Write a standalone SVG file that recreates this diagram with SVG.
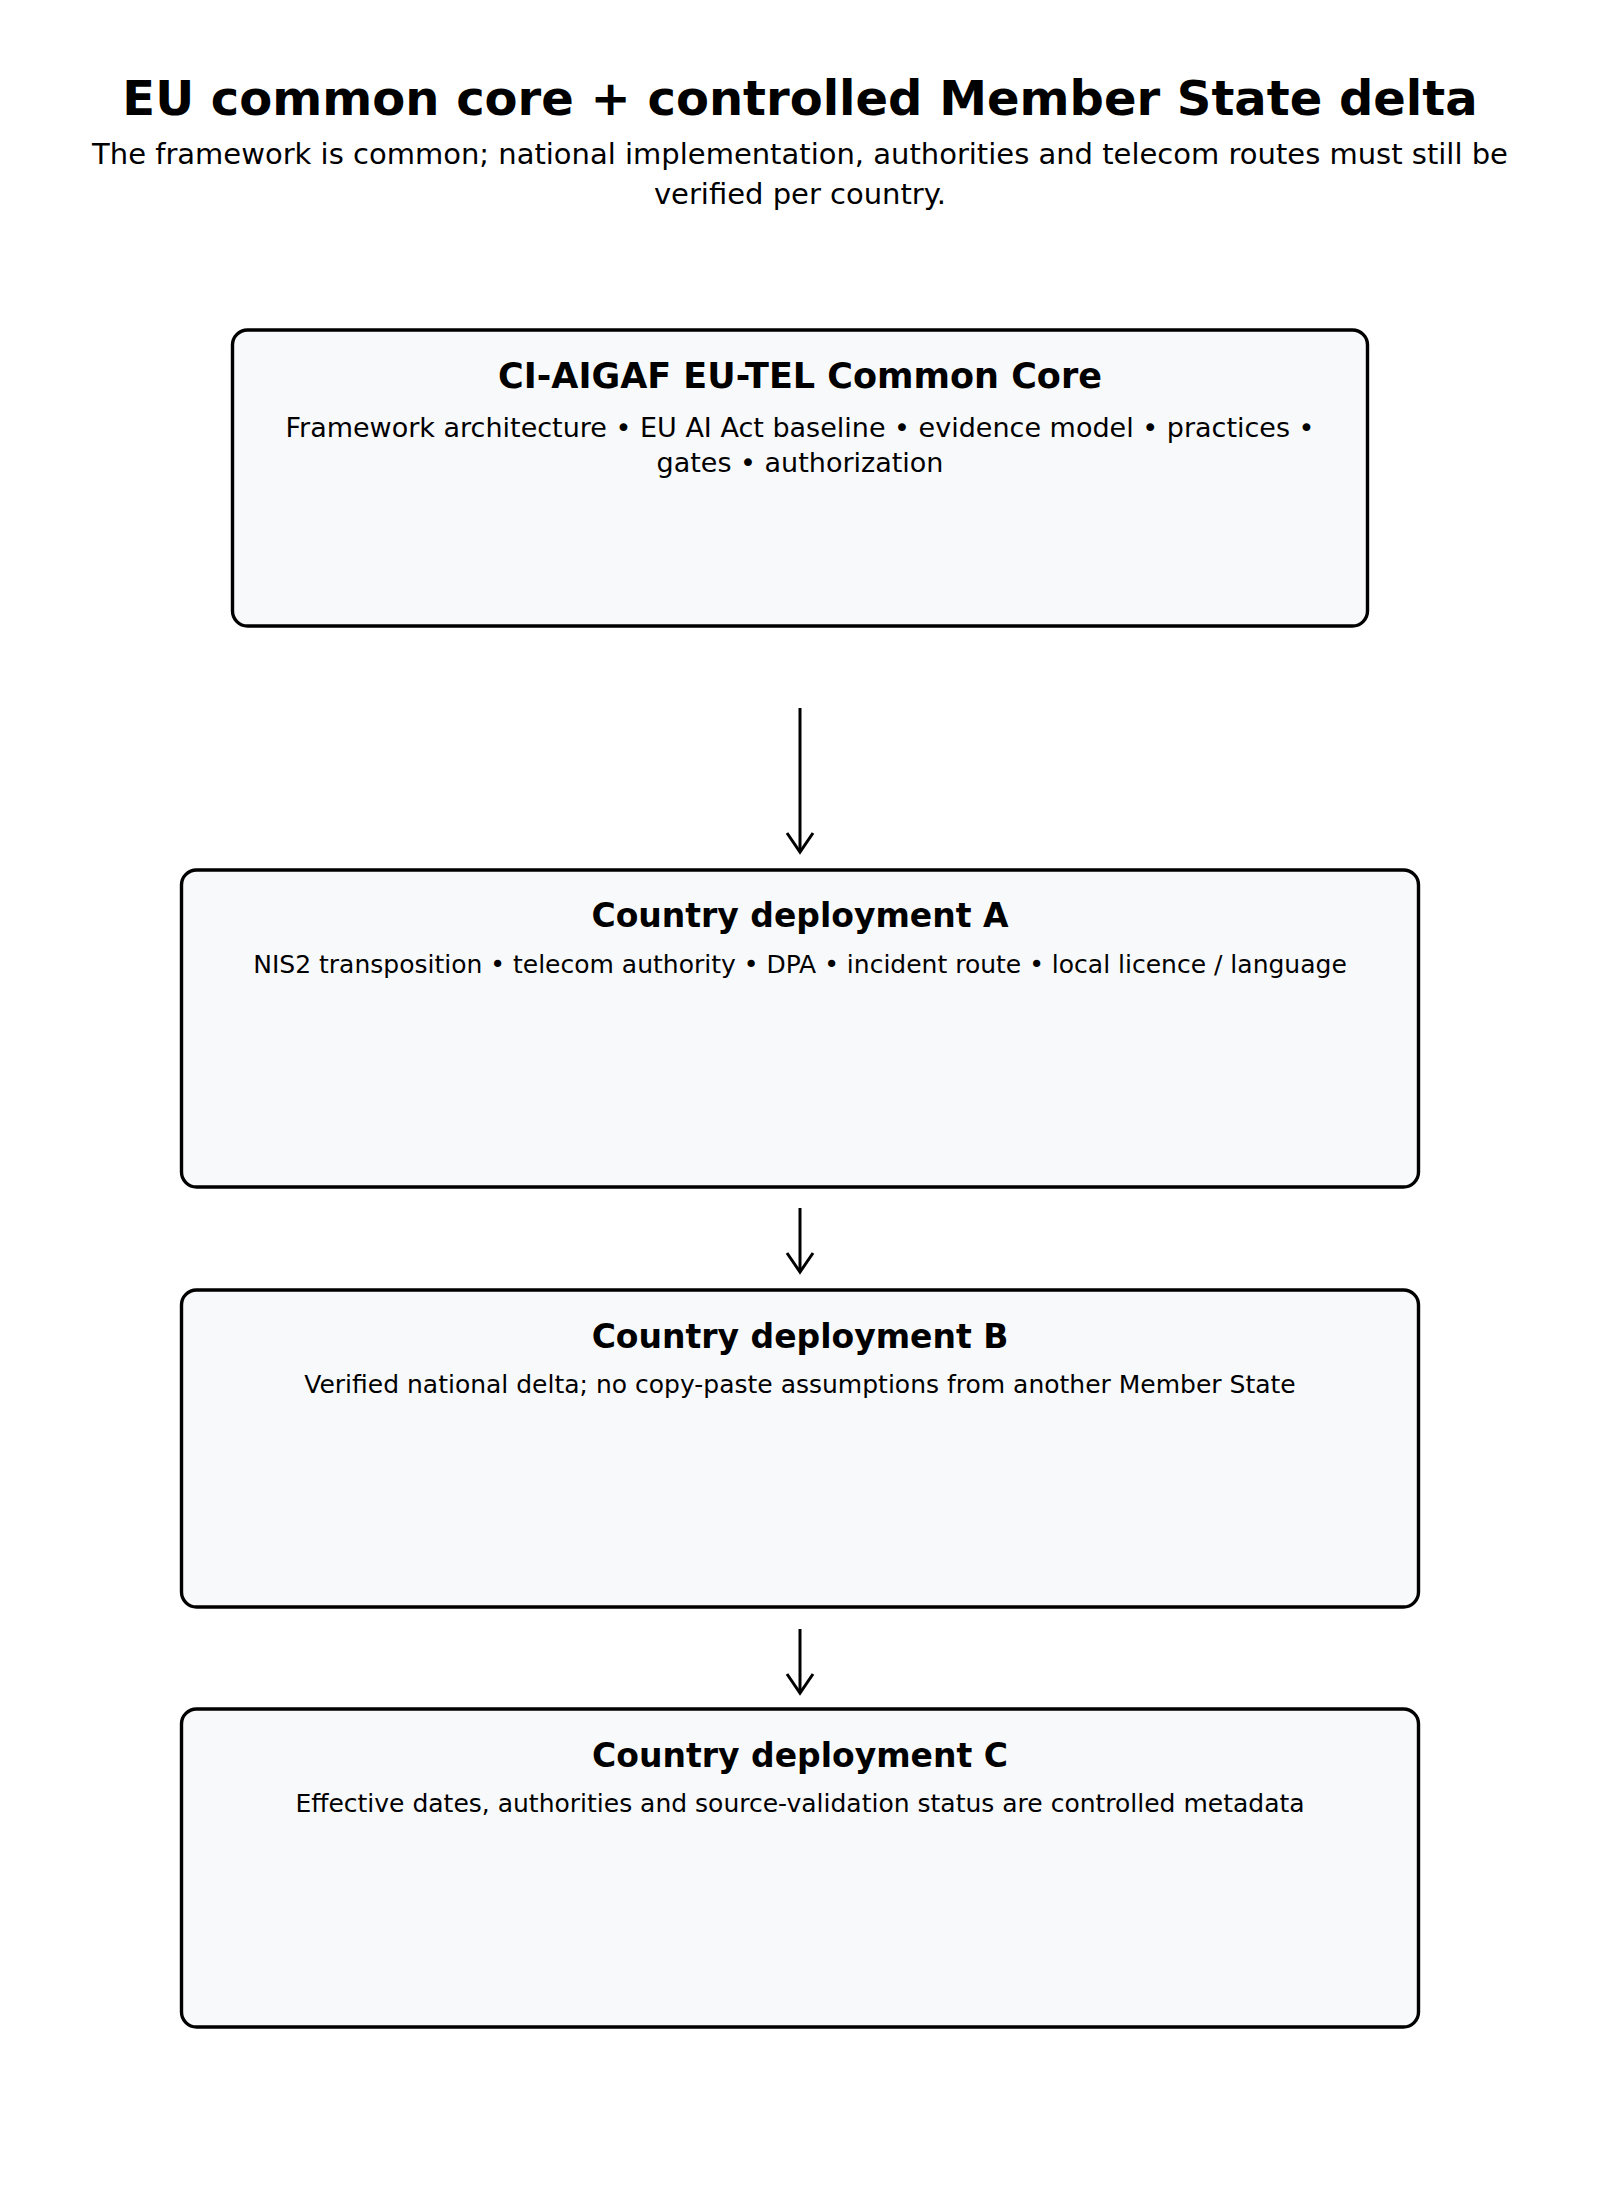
<svg xmlns="http://www.w3.org/2000/svg" width="1600" height="2200" viewBox="0 0 1600 2200">
<defs>
<style>
.box{fill:#f8f9fb;stroke:#000;stroke-width:3.4}
.t{font-family:"DejaVu Sans",sans-serif;fill:#000;text-anchor:middle}
.h{font-weight:bold}
.edge{stroke:#000;stroke-width:3;fill:none}
</style>
</defs>
<rect width="1600" height="2200" fill="#fff"/>
<g id="header">
<text class="t h" x="800" y="115" font-size="48">EU common core + controlled Member State delta</text>
<text class="t" x="800" y="164" font-size="29">The framework is common; national implementation, authorities and telecom routes must still be</text>
<text class="t" x="800" y="204" font-size="29">verified per country.</text>
</g>
<g id="connectors">
<path class="edge" d="M800,708 V851"/>
<path class="edge" d="M787,833 L800,852 L813,833"/>
<path class="edge" d="M800,1208 V1271"/>
<path class="edge" d="M787,1253 L800,1272 L813,1253"/>
<path class="edge" d="M800,1629 V1692"/>
<path class="edge" d="M787,1674 L800,1693 L813,1674"/>
</g>
<g id="core">
<rect class="box" x="232.5" y="330" width="1135" height="296" rx="15"/>
<text class="t h" x="800" y="388" font-size="35">CI-AIGAF EU-TEL Common Core</text>
<text class="t" x="800" y="437" font-size="27">Framework architecture • EU AI Act baseline • evidence model • practices •</text>
<text class="t" x="800" y="472" font-size="27">gates • authorization</text>
</g>
<g id="countryA">
<rect class="box" x="181.5" y="870" width="1237" height="317" rx="15"/>
<text class="t h" x="800" y="927" font-size="33">Country deployment A</text>
<text class="t" x="800" y="973" font-size="25">NIS2 transposition • telecom authority • DPA • incident route • local licence / language</text>
</g>
<g id="countryB">
<rect class="box" x="181.5" y="1290" width="1237" height="317" rx="15"/>
<text class="t h" x="800" y="1348" font-size="33">Country deployment B</text>
<text class="t" x="800" y="1393" font-size="25">Verified national delta; no copy-paste assumptions from another Member State</text>
</g>
<g id="countryC">
<rect class="box" x="181.5" y="1709" width="1237" height="318" rx="15"/>
<text class="t h" x="800" y="1767" font-size="33">Country deployment C</text>
<text class="t" x="800" y="1812" font-size="25">Effective dates, authorities and source-validation status are controlled metadata</text>
</g>
</svg>
